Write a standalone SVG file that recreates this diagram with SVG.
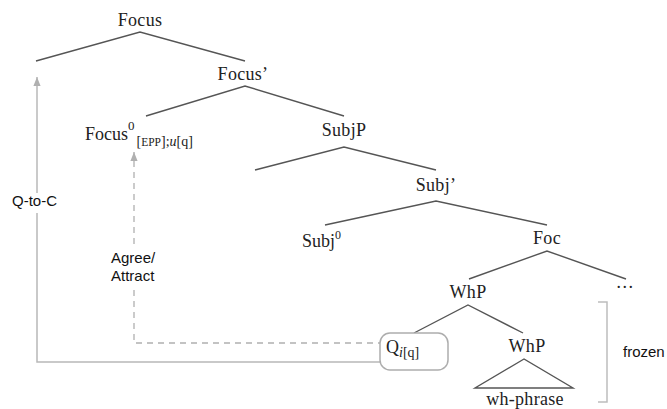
<svg xmlns="http://www.w3.org/2000/svg" width="667" height="409" viewBox="0 0 667 409">
<style>
.t{font-family:"Liberation Serif","Times New Roman",serif;font-size:18px;fill:#222;text-anchor:middle;letter-spacing:0.3px}
.s{font-family:"Liberation Serif","Times New Roman",serif;fill:#222}
.lab{font-family:"Liberation Sans",Arial,sans-serif;font-size:15px;fill:#111}
.br{stroke:#555;stroke-width:1.4;fill:none}
.mv{stroke:#b8b8b8;stroke-width:1.5;fill:none}
.dash{stroke:#b0b0b0;stroke-width:1.3;fill:none;stroke-dasharray:6 5}
</style>
<defs>
<marker id="ah" viewBox="0 0 10 10" refX="10" refY="5" markerWidth="7" markerHeight="7" markerUnits="userSpaceOnUse" orient="auto">
<path d="M0,0 L10,5 L0,10 z" fill="#b0b0b0"/>
</marker>
<marker id="ah2" viewBox="0 0 10 10" refX="10" refY="5" markerWidth="9" markerHeight="9" markerUnits="userSpaceOnUse" orient="auto">
<path d="M0,1 L10,5 L0,9 z" fill="#b0b0b0"/>
</marker>
</defs>
<rect width="667" height="409" fill="#fff"/>
<g id="connectors">
<path class="br" d="M36,61 L140,32 L245,61"/>
<path class="br" d="M146,116 L245,86 L344,116"/>
<path class="br" d="M255,170 L344,147 L436,170"/>
<path class="br" d="M325,225 L436,201 L547,225"/>
<path class="br" d="M469,279 L547,251 L626,279"/>
<path class="br" d="M414,333 L468,305 L523,333"/>
<path class="br" d="M524,359 L475,388 L573,388 Z"/>
<line class="mv" x1="37" y1="193" x2="37" y2="77" marker-end="url(#ah2)"/>
<path class="mv" d="M37,213 L37,362 L380,362"/>
<line class="dash" x1="134" y1="244" x2="134" y2="152" marker-end="url(#ah2)"/>
<path class="dash" d="M134,290 L134,343 L392,343" marker-end="url(#ah)"/>
<path d="M598,302 L607,302 L607,402 L598,402" stroke="#bdbdbd" stroke-width="1.5" fill="none"/>
</g>
<g id="n-focus"><text class="t" x="140" y="26">Focus</text></g>
<g id="n-focusbar"><text class="t" x="243" y="80">Focus’</text></g>
<g id="n-focus0"><text class="s" x="85" y="140" font-size="18">Focus<tspan font-size="13" dy="-10">0</tspan><tspan font-size="14" dy="16" dx="2">[<tspan font-size="11.5">EPP</tspan>];<tspan font-style="italic">u</tspan>[q]</tspan></text></g>
<g id="n-subjp"><text class="t" x="344" y="136">SubjP</text></g>
<g id="n-subjbar"><text class="t" x="436" y="191">Subj’</text></g>
<g id="n-subj0"><text class="s" x="302" y="247" font-size="18">Subj<tspan font-size="12" dy="-8">0</tspan></text></g>
<g id="n-foc"><text class="t" x="547" y="244">Foc</text></g>
<g id="n-whp"><text class="t" x="468" y="298">WhP</text></g>
<g id="n-dots"><text class="t" x="625" y="288">…</text></g>
<g id="n-q">
<rect x="380" y="333" width="68" height="37" rx="10" fill="#fff" stroke="#adadad" stroke-width="1.5"/>
<text class="s" x="386" y="353" font-size="18">Q<tspan font-size="14" dy="4" font-style="italic">i</tspan><tspan font-size="14">[q]</tspan></text>
</g>
<g id="n-whp2"><text class="t" x="527" y="352">WhP</text></g>
<g id="n-whphrase"><text class="t" x="525" y="405">wh-phrase</text></g>
<g id="l-qtoc"><text class="lab" x="12" y="206">Q-to-C</text></g>
<g id="l-agree"><text class="lab" x="111" y="263">Agree/</text><text class="lab" x="111" y="281">Attract</text></g>
<g id="l-frozen"><text class="lab" x="623" y="357">frozen</text></g>
</svg>
